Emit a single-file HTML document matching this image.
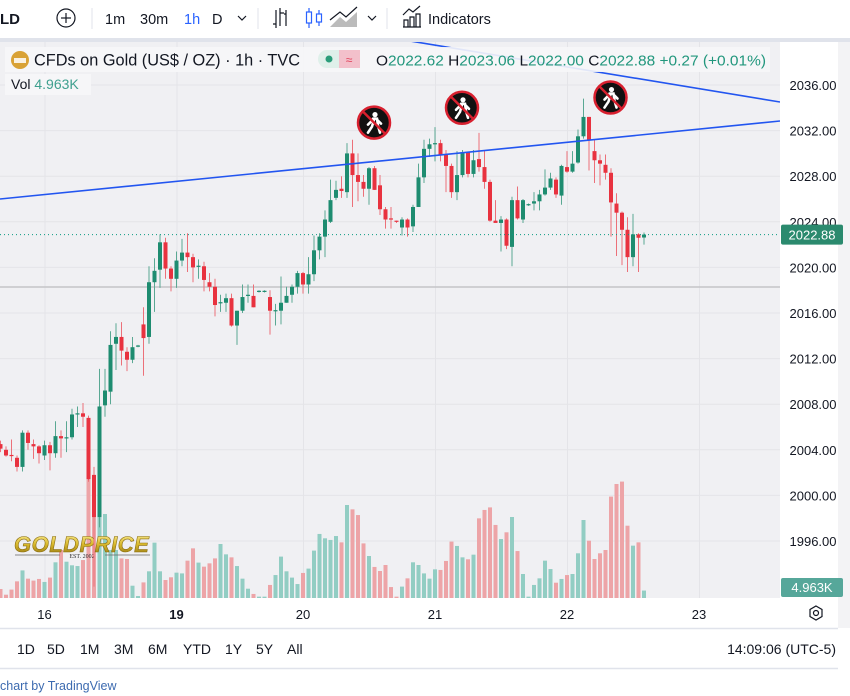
<!DOCTYPE html>
<html><head><meta charset="utf-8"><style>
html,body{margin:0;padding:0;background:#fff;width:850px;height:696px;overflow:hidden}
svg{display:block;font-family:"Liberation Sans",sans-serif}
</style></head><body>
<svg id="c" width="850" height="696" viewBox="0 0 850 696" xmlns="http://www.w3.org/2000/svg">
<defs>
<clipPath id="pane"><rect x="0" y="42" width="780" height="556"/></clipPath>
<linearGradient id="gold" x1="0" y1="0" x2="0" y2="1"><stop offset="0" stop-color="#fff3a0"/><stop offset="0.5" stop-color="#d8b82a"/><stop offset="1" stop-color="#8a6d10"/></linearGradient>
</defs>
<rect x="0" y="0" width="850" height="40" fill="#fff"/>
<rect x="0" y="38" width="850" height="4" fill="#e0e3eb"/>
<rect x="0" y="42" width="780" height="556" fill="#f0f0f3"/>
<rect x="780" y="42" width="60" height="556" fill="#fff"/>
<rect x="838" y="42" width="12" height="586" fill="#f3f3f5"/>
<g id="grid"></g>
<g id="vols" clip-path="url(#pane)"></g>
<g>
<text x="14" y="552" font-size="22" font-weight="bold" font-style="italic" fill="url(#gold)" stroke="#8a6d10" stroke-width="0.6" letter-spacing="0.5">GOLDPRICE</text>
<line x1="15" y1="555" x2="60" y2="555" stroke="#666" stroke-width="0.8"/><line x1="105" y1="555" x2="150" y2="555" stroke="#666" stroke-width="0.8"/>
<text x="82" y="558" font-size="6" text-anchor="middle" fill="#333" font-family="Liberation Serif,serif">EST. 2002</text>
</g>
<line x1="0" y1="287" x2="780" y2="287" stroke="#c4c4c8" stroke-width="1.5"/>
<g id="candles" clip-path="url(#pane)"></g>
<line id="lastline" x1="0" x2="780" stroke="#089981" stroke-width="1" stroke-dasharray="1,3"/>
<g clip-path="url(#pane)">
<line x1="0" y1="199" x2="780" y2="121" stroke="#2255f0" stroke-width="1.6"/>
<line x1="410" y1="41" x2="780" y2="102" stroke="#2255f0" stroke-width="1.6"/>
</g>
<g id="markers"></g>
<g id="yaxis"></g>
<g><rect id="lasttag" x="781" width="62" height="20" rx="2" fill="#2b8a6e"/><text id="lasttxt" x="812" font-size="13" fill="#fff" text-anchor="middle">2022.88</text></g>
<g><rect x="781" y="578" width="62" height="19" rx="2" fill="#56a79a"/><text x="812" y="592" font-size="13" fill="#fff" text-anchor="middle">4.963K</text></g>
<!-- legend -->
<rect x="5" y="47" width="765" height="25" fill="#f6f6f8" opacity="0.9"/>
<circle cx="20" cy="60" r="9" fill="#d9a236"/>
<rect x="14" y="58" width="12" height="5" fill="#fff" opacity="0.85"/>
<text x="34" y="65.5" font-size="16.5" fill="#131722" textLength="266" lengthAdjust="spacingAndGlyphs">CFDs on Gold (US$ / OZ) · 1h · TVC</text>
<rect x="318" y="50" width="42" height="18" rx="9" fill="#dff0ea"/>
<rect x="339" y="50" width="21" height="18" rx="0" fill="#f3c0cb"/><rect x="350" y="50" width="10" height="18" rx="9" fill="#f3c0cb"/>
<circle cx="329" cy="59" r="3.5" fill="#2a9d7a"/>
<text x="349" y="64" font-size="12" fill="#e0405a" text-anchor="middle">≈</text>
<text x="376" y="65.5" font-size="15" fill="#131722" textLength="390" lengthAdjust="spacingAndGlyphs">O<tspan fill="#22977d">2022.62</tspan> H<tspan fill="#22977d">2023.06</tspan> L<tspan fill="#22977d">2022.00</tspan> C<tspan fill="#22977d">2022.88</tspan> <tspan fill="#22977d">+0.27 (+0.01%)</tspan></text>
<rect x="5" y="74" width="86" height="21" fill="#f6f6f8" opacity="0.9"/>
<text x="11" y="89" font-size="14" fill="#131722">Vol <tspan fill="#3fa08f">4.963K</tspan></text>
<!-- toolbar -->
<text x="0" y="24" font-size="15" font-weight="bold" fill="#131722">LD</text>
<g><circle cx="66" cy="18" r="9" fill="none" stroke="#131722" stroke-width="1.2"/><line x1="61" y1="18" x2="71" y2="18" stroke="#131722" stroke-width="1.2"/><line x1="66" y1="13" x2="66" y2="23" stroke="#131722" stroke-width="1.2"/></g>
<line x1="92" y1="8" x2="92" y2="29" stroke="#e0e3eb" stroke-width="1"/>
<text x="105" y="24" font-size="14.5" fill="#131722">1m</text>
<text x="140" y="24" font-size="14.5" fill="#131722">30m</text>
<text x="184" y="24" font-size="14.5" fill="#2962ff">1h</text>
<text x="212" y="24" font-size="14.5" fill="#131722">D</text>
<path d="M238 16 L242 20 L246 16" fill="none" stroke="#131722" stroke-width="1.2"/>
<line x1="258" y1="8" x2="258" y2="29" stroke="#e0e3eb"/>
<g stroke="#131722" stroke-width="1.2" fill="none"><path d="M276 10 V28 M273 24 H276 M280 8 V26 M280 13 H284 M286 10 V26 M284 14 H286"/></g>
<g stroke="#2962ff" stroke-width="1.2" fill="none"><path d="M309 8 V28 M319 10 V26"/><rect x="306.5" y="12" width="5" height="11" fill="#fff"/><rect x="316.5" y="14" width="5" height="8" fill="#fff"/></g>
<g><path d="M330 27 L340 17 L346 22 L357 12 L357 27 Z" fill="#bbb"/><path d="M330 20 L340 12 L346 17 L357 7" fill="none" stroke="#131722" stroke-width="1.2"/></g>
<path d="M368 16 L372 20 L376 16" fill="none" stroke="#131722" stroke-width="1.2"/>
<line x1="387" y1="8" x2="387" y2="29" stroke="#e0e3eb"/>
<g stroke="#131722" stroke-width="1.2" fill="none"><path d="M403 27 H421 M404 27 V20 H408 V27 M410 27 V17 H414 V27 M416 27 V14 H420 V27 M403 15 L409 9 L413 12 L420 6"/></g>
<text x="428" y="24" font-size="14.5" fill="#131722">Indicators</text>
<!-- time axis -->
<rect x="0" y="598" width="838" height="30" fill="#fff"/>
<g id="xaxis"></g>
<g><path d="M816 606 L822 609.5 L822 616.5 L816 620 L810 616.5 L810 609.5 Z" fill="none" stroke="#131722" stroke-width="1.2"/><circle cx="816" cy="613" r="2.5" fill="none" stroke="#131722" stroke-width="1.2"/></g>
<line x1="0" y1="628.5" x2="838" y2="628.5" stroke="#e0e3eb" stroke-width="1.5"/>
<g font-size="14" fill="#131722">
<text x="17" y="654">1D</text>
<text x="47" y="654">5D</text>
<text x="80" y="654">1M</text>
<text x="114" y="654">3M</text>
<text x="148" y="654">6M</text>
<text x="183" y="654">YTD</text>
<text x="225" y="654">1Y</text>
<text x="256" y="654">5Y</text>
<text x="287" y="654">All</text>
</g>
<text x="836" y="654" font-size="14" fill="#131722" text-anchor="end">14:09:06 (UTC-5)</text>
<line x1="0" y1="668.5" x2="838" y2="668.5" stroke="#e0e3eb" stroke-width="1.5"/>
<text x="0" y="690" font-size="12.5" fill="#3d6bb0">chart by TradingView</text>
</svg>
<script>
const opens=[2004.5,2004.0,2003.55,2003.3,2002.5,2005.5,2004.5,2004.3,2003.5,2004.4,
2003.7,2005.2,2005.0,2005.1,2007.1,2007.2,2006.8,2001.8,1998.1,2007.9,
2009.1,2013.3,2013.9,2012.6,2011.9,2013.05,2015.0,2013.9,2018.7,2019.8,
2022.2,2019.9,2019.0,2020.6,2021.3,2020.9,2020.05,2020.1,2018.7,2018.3,
2016.85,2016.9,2017.3,2014.9,2016.2,2017.5,2017.5,2017.85,2017.85,2017.4,
2016.15,2016.2,2016.9,2017.6,2018.3,2019.5,2018.5,2019.4,2021.5,2022.7,
2024.0,2026.1,2026.9,2026.6,2030.0,2028.1,2027.5,2026.9,2028.7,2027.2,
2025.1,2024.3,2024.1,2023.5,2024.2,2023.6,2025.3,2027.9,2030.4,2030.8,
2030.9,2029.9,2028.9,2026.6,2028.1,2030.1,2028.2,2029.5,2028.8,2027.5,
2024.1,2023.9,2024.2,2021.8,2025.9,2024.2,2025.45,2025.6,2025.8,2026.4,
2027.0,2027.7,2026.3,2028.8,2028.4,2029.2,2031.5,2033.2,2030.2,2029.4,
2029.0,2028.3,2025.6,2024.8,2023.3,2020.9,2022.9,2022.62];
const highs=[2004.8,2004.3,2004.9,2003.5,2005.7,2005.7,2004.9,2004.4,2004.8,2004.7,
2006.5,2005.7,2006.5,2007.6,2007.8,2008.1,2007.0,2002.5,2011.1,2011.1,
2014.4,2015.1,2015.2,2013.0,2013.9,2013.2,2016.5,2020.1,2020.8,2022.9,
2022.6,2020.1,2021.4,2022.5,2023.0,2021.2,2020.7,2020.5,2019.5,2019.0,
2017.6,2017.7,2017.7,2016.2,2018.5,2018.5,2018.5,2018.0,2018.0,2018.0,
2016.8,2019.2,2018.3,2018.5,2019.7,2019.6,2020.9,2022.8,2023.0,2025.0,
2027.7,2027.6,2028.0,2030.9,2031.2,2030.0,2028.1,2028.8,2028.9,2028.1,
2025.3,2025.3,2024.1,2024.4,2024.3,2025.5,2029.1,2031.2,2031.3,2032.3,
2031.2,2030.3,2029.1,2030.2,2030.3,2030.1,2030.3,2031.8,2030.3,2027.7,
2025.9,2024.5,2024.3,2026.2,2027.1,2026.0,2025.6,2026.6,2026.8,2028.6,
2028.3,2027.9,2029.0,2030.2,2030.2,2032.1,2034.8,2033.2,2031.2,2029.9,
2029.9,2028.7,2026.5,2024.9,2024.4,2024.7,2023.0,2023.06];
const lows=[2003.8,2003.4,2003.0,2002.1,2002.1,2004.0,2003.2,2002.8,2003.1,2002.2,
2003.3,2003.3,2003.8,2004.9,2006.0,2006.0,2001.2,1992.0,1997.2,2006.9,
2008.0,2011.0,2011.4,2010.9,2011.6,2013.0,2010.5,2013.3,2016.1,2018.2,
2019.0,2017.9,2018.2,2020.1,2019.6,2018.7,2019.0,2017.9,2017.9,2015.7,
2016.1,2016.1,2014.8,2013.2,2016.0,2016.9,2016.5,2017.8,2017.8,2014.1,
2014.9,2015.0,2016.9,2016.9,2017.7,2017.7,2017.7,2018.8,2020.7,2020.9,
2023.9,2025.9,2026.1,2026.1,2025.3,2025.8,2026.2,2025.5,2026.8,2024.6,
2023.4,2023.4,2023.9,2022.8,2022.7,2023.1,2025.3,2027.4,2029.7,2029.3,
2029.3,2026.6,2026.1,2025.9,2027.9,2027.9,2027.9,2028.4,2026.9,2024.0,
2024.0,2021.4,2021.6,2020.1,2024.2,2023.9,2025.4,2025.0,2025.0,2026.3,
2026.8,2026.1,2025.5,2028.3,2028.3,2029.1,2031.3,2028.5,2027.4,2027.2,
2027.7,2022.7,2021.0,2020.2,2019.6,2020.1,2019.6,2022.0];
const closes=[2004.1,2003.5,2003.45,2002.5,2005.5,2004.6,2004.3,2003.7,2004.4,2003.7,
2005.2,2005.0,2005.1,2007.1,2007.2,2006.9,2001.4,1998.1,2007.8,2009.2,
2013.2,2013.9,2012.7,2011.9,2013.0,2013.15,2013.8,2018.7,2019.7,2022.2,
2019.9,2019.0,2020.6,2021.3,2020.9,2020.0,2020.15,2018.9,2018.3,2016.7,
2016.95,2017.3,2014.9,2016.2,2017.4,2017.6,2016.5,2017.95,2017.95,2016.2,
2016.25,2016.9,2017.5,2018.3,2019.5,2018.5,2019.4,2021.5,2022.7,2024.2,
2025.9,2026.8,2026.7,2030.0,2028.1,2027.5,2026.9,2028.7,2026.8,2025.1,
2024.2,2024.2,2024.0,2024.2,2023.5,2025.3,2027.9,2030.4,2030.8,2030.9,
2029.9,2028.9,2026.6,2028.1,2030.1,2028.2,2029.4,2028.8,2027.5,2024.1,
2023.9,2024.2,2021.9,2025.9,2024.3,2025.9,2025.55,2025.8,2026.4,2027.0,
2027.8,2026.4,2028.9,2028.4,2029.1,2031.5,2033.2,2031.2,2029.4,2029.1,
2028.3,2025.7,2024.8,2023.3,2020.9,2022.9,2022.6,2022.88];
const volumes=[6.0,2.2,5.6,11.1,18.4,12.9,11.6,12.7,10.7,13.6,
23.8,32.0,24.2,21.8,21.3,25.3,78.7,79.3,54.2,56.0,
32.0,32.0,26.4,26.0,8.2,1.3,10.4,17.8,36.9,17.8,
12.0,13.8,16.9,16.4,24.9,33.1,23.6,20.9,23.1,26.4,
36.0,29.1,27.1,21.3,12.9,6.2,2.7,0.9,0.9,8.7,
15.3,27.6,17.8,13.6,9.3,16.7,19.6,31.6,42.7,39.8,
38.7,41.3,37.1,62.0,59.1,55.3,36.4,28.0,20.7,18.0,
22.0,7.3,0.9,7.6,13.1,23.8,22.0,16.4,12.9,19.1,
18.7,24.7,37.6,34.7,27.1,25.8,28.9,53.1,58.7,60.4,
48.7,39.3,43.8,54.0,31.3,16.0,0.9,8.7,13.1,24.9,
19.3,10.2,12.7,15.3,16.0,29.8,52.0,38.2,26.0,29.8,
32.0,67.6,76.0,77.6,48.2,34.9,37.1,4.963];
const priceTicks=[2036,2032,2028,2024,2020,2016,2012,2008,2004,2000,1996];
const dayLabels=["16","19","20","21","22","23"];
const dayBarIndex=[8,32,55,79,103,127];
const markerBars=[67,83,110];
const markerPrices=[2032.7,2034.0,2034.9];
const lastPrice=2022.88;

const NS="http://www.w3.org/2000/svg";
const X0=0.5, STEP=5.5;
function xScale(i){return X0+i*STEP;}
function yScale(p){return 85+(2036-p)*11.4;}
function vScale(v){return v*1.5;}
const BASE=598;
function mk(tag,attrs,parent){const e=document.createElementNS(NS,tag);for(const k in attrs)e.setAttribute(k,attrs[k]);parent.appendChild(e);return e;}

const grid=document.getElementById('grid');
priceTicks.forEach(p=>{const l=mk('line',{x1:0,x2:780,y1:yScale(p),y2:yScale(p),stroke:'#e4e4e8','stroke-width':1},grid);

});
dayBarIndex.forEach(i=>{const x=xScale(i)+0.5;const l=mk('line',{x1:x,x2:x,y1:42,y2:598,stroke:'#e4e4e8','stroke-width':1},grid);

});

const ya=document.getElementById('yaxis');
priceTicks.forEach(p=>{const t=mk('text',{x:813,y:yScale(p)+5,'font-size':13,fill:'#131722','text-anchor':'middle'},ya);t.textContent=p.toFixed(2);

});
const xa=document.getElementById('xaxis');
dayLabels.forEach((d,k)=>{const t=mk('text',{x:xScale(dayBarIndex[k]),y:619,'font-size':13,fill:'#131722','text-anchor':'middle','font-weight':d==='19'?'bold':'normal'},xa);t.textContent=d;

});

const vg=document.getElementById('vols');
volumes.forEach((v,i)=>{const up=closes[i]>=opens[i];const h=vScale(v);
const r=mk('rect',{x:xScale(i)-2,y:BASE-h,width:4,height:h,fill:up?'#92cdc3':'#eda4a7'},vg);

});

const cg=document.getElementById('candles');
opens.forEach((o,i)=>{const c=closes[i];const up=c>=o;const col=up?'#1e8c70':'#e8323f';const x=xScale(i);
const g=mk('g',{},cg);


mk('line',{x1:x,x2:x,y1:yScale(highs[i]),y2:yScale(lows[i]),stroke:up?'#5aa893':'#ec7079','stroke-width':1},g);
const top=yScale(Math.max(o,c)),bot=yScale(Math.min(o,c));
mk('rect',{x:x-2,y:top,width:4,height:Math.max(1.2,bot-top),fill:col},g);});

const ly=yScale(lastPrice);
const ll=document.getElementById('lastline');ll.setAttribute('y1',ly);ll.setAttribute('y2',ly);
document.getElementById('lasttag').setAttribute('y',ly-10);
document.getElementById('lasttxt').setAttribute('y',ly+5);

const mg=document.getElementById('markers');
markerBars.forEach((b,k)=>{const cx=xScale(b)+5,cy=yScale(markerPrices[k]);
const g=mk('g',{},mg);


mk('circle',{cx:cx,cy:cy,r:16,fill:'#111','stroke':'#d8202f','stroke-width':2.5},g);
mk('circle',{cx:cx+1,cy:cy-8,r:2.6,fill:'#fff'},g);
mk('path',{d:`M${cx-1} ${cy-4} L${cx+3} ${cy-4} L${cx+4} ${cy+3} L${cx+6} ${cy+10} M${cx} ${cy-3} L${cx-2} ${cy+4} L${cx-6} ${cy+10} M${cx-1} ${cy-3} L${cx-6} ${cy+2} M${cx+3} ${cy-3} L${cx+7} ${cy+1}`,fill:'none',stroke:'#fff','stroke-width':2.6,'stroke-linecap':'round'},g);
mk('line',{x1:cx-11,y1:cy-11,x2:cx+11,y2:cy+11,stroke:'#d8202f','stroke-width':2.5},g);});
</script>
</body></html>
